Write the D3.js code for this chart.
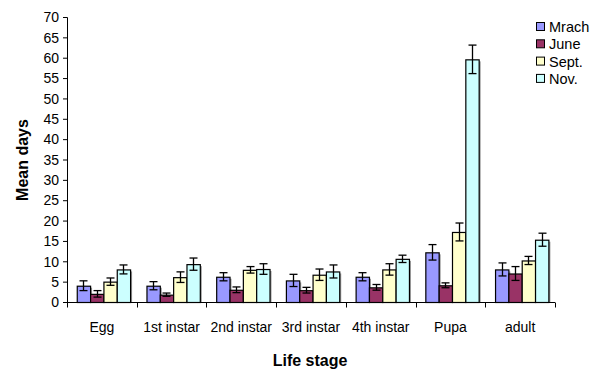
<!DOCTYPE html>
<html><head><meta charset="utf-8">
<script src="https://cdn.jsdelivr.net/npm/d3@7"></script>
<style>body{margin:0;background:#fff}svg{display:block;font-family:"Liberation Sans",Arial,sans-serif}</style>
</head><body><svg id="c" width="599" height="370"></svg>
<script>
const categories = ["Egg","1st instar","2nd instar","3rd instar","4th instar","Pupa","adult"];
const seriesNames = ["Mrach","June","Sept.","Nov."];
const seriesColors = ["#9999FF","#993366","#FFFFCC","#CCFFFF"];
const mrach = [4.0, 4.0, 6.2, 5.3, 6.2, 12.2, 8.0];
const june  = [2.0, 1.8, 3.0, 2.9, 3.6, 4.1, 7.0];
const sept  = [5.0, 6.1, 7.9, 6.7, 8.0, 17.2, 10.2];
const nov   = [8.0, 9.3, 8.1, 7.5, 10.6, 59.6, 15.3];
const mrachErr = [1.2, 1.0, 1.0, 1.5, 1.0, 1.9, 1.6];
const juneErr  = [0.8, 0.4, 0.7, 0.7, 0.7, 0.6, 1.7];
const septErr  = [0.9, 1.3, 0.8, 1.4, 1.4, 2.2, 1.0];
const novErr   = [1.1, 1.5, 1.3, 1.6, 0.9, 3.5, 1.6];
const yTicks = d3.range(0, 71, 5);

const values = [mrach, june, sept, nov];
const errs = [mrachErr, juneErr, septErr, novErr];
const FONT = '"Liberation Sans",Arial,sans-serif';

const svg = d3.select("#c");
const L = 67, R = 555, T = 17, B = 302;
const x0 = d3.scaleBand().domain(categories).range([L, R]).padding(0);
const bw = x0.bandwidth();
const x1 = d3.scaleBand().domain(seriesNames).range([bw*0.14, bw*0.905]).padding(0);
const y = d3.scaleLinear().domain([0, 70]).range([B, T]);

// y axis
const yAxis = d3.axisLeft(y).tickValues(yTicks).tickSize(4).tickPadding(4);
const gy = svg.append("g").attr("transform", `translate(${L},0)`).call(yAxis);
gy.select(".domain").attr("d", `M-4,${T+0.5}H0.5V${B}`).attr("stroke", "#000");
gy.selectAll("text").attr("font-size", 14).attr("fill", "#000").attr("font-family", FONT).attr("dy", "0.34em");
gy.selectAll("line").attr("stroke", "#000");

// bars
const data = [];
categories.forEach((c, i) => seriesNames.forEach((s, j) => data.push({c, s, j, v: values[j][i], e: errs[j][i]})));
const g = svg.append("g");
g.selectAll("rect.shadow").data(data).join("rect")
  .attr("class", "shadow")
  .attr("x", d => x0(d.c) + x1(d.s) + 2)
  .attr("y", d => y(d.v) + 2)
  .attr("width", x1.bandwidth())
  .attr("height", d => y(0) - y(d.v) - 2)
  .attr("fill", "#9a9a9a");
g.selectAll("rect.bar").data(data).join("rect")
  .attr("class", "bar")
  .attr("x", d => x0(d.c) + x1(d.s) + 0.5)
  .attr("y", d => y(d.v) + 0.5)
  .attr("width", x1.bandwidth())
  .attr("height", d => y(0) - y(d.v))
  .attr("fill", d => seriesColors[d.j])
  .attr("stroke", "#000").attr("stroke-width", 1.2);

// error bars
const cap = 4;
const eg = svg.append("g").attr("stroke", "#000").attr("stroke-width", 1.3);
data.forEach(d => {
  const cx = Math.round(x0(d.c) + x1(d.s) + x1.bandwidth()/2) + 0.5;
  const y1 = y(d.v + d.e), y2 = y(d.v - d.e);
  eg.append("line").attr("x1", cx).attr("x2", cx).attr("y1", y1).attr("y2", y2);
  eg.append("line").attr("x1", cx-cap).attr("x2", cx+cap).attr("y1", y1).attr("y2", y1);
  eg.append("line").attr("x1", cx-cap).attr("x2", cx+cap).attr("y1", y2).attr("y2", y2);
});

// x axis
const xAxis = d3.axisBottom(x0).tickSize(0).tickPadding(20);
const gx = svg.append("g").attr("transform", `translate(0,${B+0.5})`).call(xAxis);
gx.select(".domain").attr("d", `M${L},0H${R}`).attr("stroke", "#000");
gx.selectAll("text").attr("font-size", 14).attr("fill", "#000").attr("font-family", FONT);
const bounds = categories.map(c => x0(c)).concat([R]);
gx.selectAll("line.bt").data(bounds).join("line").attr("class", "bt")
  .attr("x1", d => Math.round(d)+0.5).attr("x2", d => Math.round(d)+0.5)
  .attr("y1", 0).attr("y2", 5).attr("stroke", "#000");

// axis titles
svg.append("text").attr("x", 310).attr("y", 366).attr("text-anchor", "middle")
  .attr("font-weight", "bold").attr("font-size", 16).text("Life stage");
svg.append("text").attr("transform", "translate(28,160) rotate(-90)").attr("text-anchor", "middle")
  .attr("font-weight", "bold").attr("font-size", 16).text("Mean days");

// legend
const lg = svg.append("g").attr("transform", "translate(536,27)");
seriesNames.forEach((s, j) => {
  const row = lg.append("g").attr("transform", `translate(0,${j*17.3})`);
  row.append("rect").attr("x", 0.5).attr("y", -4.5).attr("width", 8).attr("height", 8)
    .attr("fill", seriesColors[j]).attr("stroke", "#000");
  row.append("text").attr("x", 13).attr("y", 5).attr("font-size", 14.5).text(s);
});
</script></body></html>
